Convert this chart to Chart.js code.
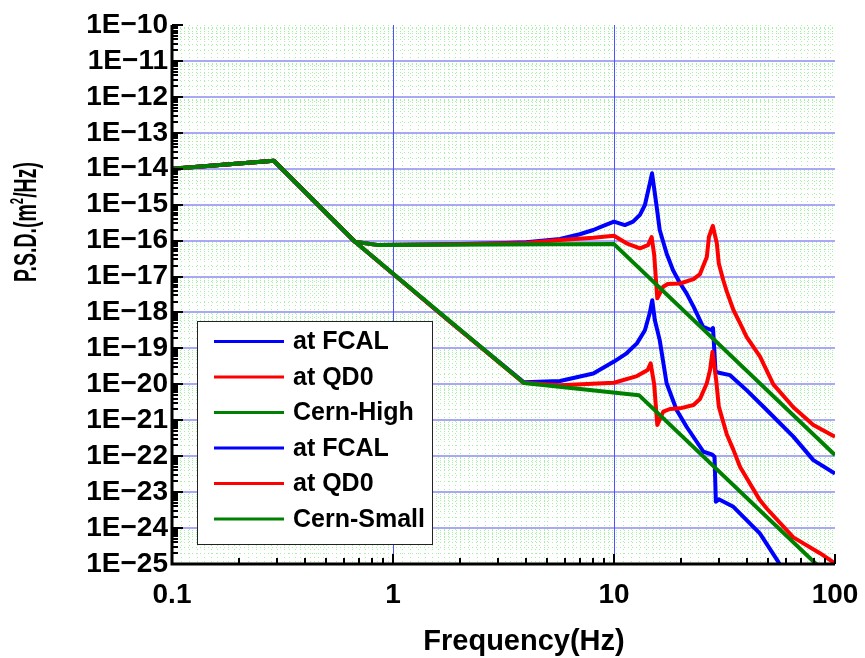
<!DOCTYPE html>
<html>
<head>
<meta charset="utf-8">
<script src="https://cdn.jsdelivr.net/npm/chart.js@4.4.1/dist/chart.umd.min.js"></script>
<style>
  html, body { margin: 0; padding: 0; background: #ffffff; }
  #wrap { width: 865px; height: 658px; }
</style>
</head>
<body>
<div id="wrap"><canvas id="psdChart" width="865" height="658"></canvas></div>
<script>
// ground motion PSD (m^2/Hz) vs frequency (Hz)
const seriesNames = ['at FCAL', 'at QD0', 'Cern-High', 'at FCAL', 'at QD0', 'Cern-Small'];
const seriesColors = ['#0000ff', '#ff0000', '#008000', '#0000ff', '#ff0000', '#008000'];

const fcalHighFreq = [0.1, 0.289, 0.673, 0.844, 2, 3, 4, 5.7, 7, 8.06, 9, 10, 11.2, 12.2, 13.1, 13.8, 14.3, 14.6, 14.86, 15.2, 15.6, 16.1, 17.3, 18.5, 19.9, 21.3, 22.9, 25.3, 27.7, 28.05, 28.8, 29.8, 33.5, 39.8, 49.1, 64.8, 79.8, 100];
const fcalHighPsd = [1e-14, 1.67e-14, 9.3e-17, 7.6e-17, 8.0e-17, 8.4e-17, 9.0e-17, 1.11e-16, 1.5e-16, 1.97e-16, 2.6e-16, 3.36e-16, 2.7e-16, 3.36e-16, 5.2e-16, 9.8e-16, 2.56e-15, 4.5e-15, 7.45e-15, 2.8e-15, 8.8e-16, 1.97e-16, 4.4e-17, 1.5e-17, 6.5e-18, 3.4e-18, 1.45e-18, 4.0e-19, 3.2e-19, 3.7e-19, 2.3e-20, 2.1e-20, 1.8e-20, 6.9e-21, 1.93e-21, 3.5e-22, 7.8e-23, 3.3e-23];

const qd0HighFreq = [0.1, 0.289, 0.673, 0.844, 2, 4, 5.7, 8.06, 10, 11.4, 13.1, 14.25, 14.8, 15.2, 15.7, 16.7, 17.5, 19.9, 22.9, 24.5, 26.3, 26.9, 28.0, 29.2, 29.8, 31.2, 32.4, 34.7, 37.2, 39.8, 45.8, 52.6, 64.8, 79.8, 100];
const qd0HighPsd = [1e-14, 1.67e-14, 9.3e-17, 7.6e-17, 7.9e-17, 8.6e-17, 1.04e-16, 1.2e-16, 1.37e-16, 8.4e-17, 6.1e-17, 7.5e-17, 1.26e-16, 4.0e-17, 2.47e-18, 5.2e-18, 6.2e-18, 6.4e-18, 8.5e-18, 1.17e-17, 3.5e-17, 1.28e-16, 2.55e-16, 8.4e-17, 2.3e-17, 8.0e-18, 3.8e-18, 1.17e-18, 5.0e-19, 2.1e-19, 5.9e-20, 1.0e-20, 2.3e-21, 7.4e-22, 3.5e-22];

const cernHighFreq = [0.1, 0.289, 0.673, 0.844, 10, 100];
const cernHighPsd = [1e-14, 1.67e-14, 9.3e-17, 7.6e-17, 8.0e-17, 1.08e-22];

const fcalSmallFreq = [0.1, 0.289, 0.673, 1.75, 3.9, 5.7, 8.06, 10, 11.4, 12.7, 13.8, 14.5, 14.9, 15.3, 16.1, 17.3, 19.2, 21.3, 25.4, 27.7, 28.5, 28.9, 29.8, 34.7, 45.7, 55.3, 62];
const fcalSmallPsd = [1e-14, 1.67e-14, 9.3e-17, 6.6e-19, 1.15e-20, 1.24e-20, 2.0e-20, 4.3e-20, 7.3e-20, 1.38e-19, 3.2e-19, 9.5e-19, 2.2e-18, 6.2e-19, 1.7e-19, 1.07e-20, 1.93e-21, 6.6e-22, 1.33e-22, 1.13e-22, 9.7e-23, 5.4e-24, 6.3e-24, 3.9e-24, 7.1e-25, 1.16e-25, 3e-26];

const qd0SmallFreq = [0.1, 0.289, 0.673, 1.75, 3.9, 5.7, 10, 12.7, 14.2, 14.65, 15.2, 15.7, 16.7, 17.9, 19.9, 22.9, 24.5, 26.3, 27.2, 27.9, 29.0, 29.8, 32.4, 34.7, 37.2, 45.7, 49.1, 64.8, 85.5, 100];
const qd0SmallPsd = [1e-14, 1.67e-14, 9.3e-17, 6.6e-19, 1.1e-20, 9.5e-21, 1.11e-20, 1.7e-20, 2.5e-20, 3.85e-20, 1.0e-20, 7.4e-22, 1.73e-21, 2.06e-21, 2.15e-21, 2.65e-21, 3.9e-21, 1.07e-20, 2.5e-20, 8.1e-20, 1.3e-20, 2.4e-21, 4.0e-22, 1.5e-22, 5.0e-23, 6.0e-24, 3.5e-24, 5.5e-25, 2.0e-25, 1.04e-25];

const cernSmallFreq = [0.1, 0.289, 0.673, 3.915, 12.97, 81.2, 100];
const cernSmallPsd = [1e-14, 1.67e-14, 9.3e-17, 1.09e-20, 5.0e-21, 1.07e-25, 3.2e-26];

const xTickValues = [0.1, 1, 10, 100];
const xTickLabels = ['0.1', '1', '10', '100'];
const yTickValues = [1e-10, 1e-11, 1e-12, 1e-13, 1e-14, 1e-15, 1e-16, 1e-17, 1e-18, 1e-19, 1e-20, 1e-21, 1e-22, 1e-23, 1e-24, 1e-25];
const yTickLabels = ['1E\u221210', '1E\u221211', '1E\u221212', '1E\u221213', '1E\u221214', '1E\u221215', '1E\u221216', '1E\u221217', '1E\u221218', '1E\u221219', '1E\u221220', '1E\u221221', '1E\u221222', '1E\u221223', '1E\u221224', '1E\u221225'];
const xTitle = 'Frequency(Hz)';
const yTitle = ['P.S.D.(m', '2', '/Hz)'];

const allFreq = [fcalHighFreq, qd0HighFreq, cernHighFreq, fcalSmallFreq, qd0SmallFreq, cernSmallFreq];
const allPsd = [fcalHighPsd, qd0HighPsd, cernHighPsd, fcalSmallPsd, qd0SmallPsd, cernSmallPsd];

const FONT = '"Liberation Sans", Arial, Helvetica, sans-serif';

function toPoints(freq, psd) {
    return freq.map(function(f, i) { return { x: f, y: psd[i] }; });
}

const datasets = seriesNames.map(function(name, i) {
    return {
        label: name,
        data: toPoints(allFreq[i], allPsd[i]),
        borderColor: seriesColors[i],
        backgroundColor: seriesColors[i],
        borderWidth: 4,
        borderJoinStyle: 'round',
        pointRadius: 0,
        fill: false,
        tension: 0,
        // later series sit on top, like the original plot
        order: seriesNames.length - i
    };
});

function decadeSteps() {
    const steps = [];
    for (let m = 1.1; m < 1.95; m += 0.1) steps.push(m);
    for (let m = 2; m < 4.95; m += 0.2) steps.push(m);
    for (let m = 5; m < 9.95; m += 0.5) steps.push(m);
    return steps;
}

const gridPlugin = {
    id: 'psdGrid',
    beforeDatasetsDraw(chart) {
        const ctx = chart.ctx;
        const a = chart.chartArea;
        const xs = chart.scales.x;
        const ys = chart.scales.y;
        ctx.save();

        // fine green dotted grid
        ctx.strokeStyle = '#a8f0a8';
        ctx.lineWidth = 1;
        ctx.setLineDash([1, 3]);
        const steps = decadeSteps();
        for (let k = -1; k <= 1; k++) {
            steps.forEach(function(m) {
                const px = Math.round(xs.getPixelForValue(m * Math.pow(10, k))) + 0.5;
                ctx.beginPath();
                ctx.moveTo(px, a.top);
                ctx.lineTo(px, a.bottom);
                ctx.stroke();
            });
        }
        for (let k = -25; k <= -11; k++) {
            for (let n = 2; n <= 9; n++) {
                const py = Math.round(ys.getPixelForValue(n * Math.pow(10, k))) + 0.5;
                ctx.beginPath();
                ctx.moveTo(a.left, py);
                ctx.lineTo(a.right, py);
                ctx.stroke();
            }
        }
        ctx.setLineDash([]);

        // decade lines
        ctx.strokeStyle = '#a8a8f4';
        ctx.lineWidth = 2;
        for (let k = -24; k <= -11; k++) {
            const py = Math.round(ys.getPixelForValue(Math.pow(10, k)));
            ctx.beginPath();
            ctx.moveTo(a.left, py);
            ctx.lineTo(a.right, py);
            ctx.stroke();
        }
        ctx.strokeStyle = '#5050ff';
        ctx.lineWidth = 1;
        [1, 10].forEach(function(v) {
            const px = Math.round(xs.getPixelForValue(v)) + 0.5;
            ctx.beginPath();
            ctx.moveTo(px, a.top);
            ctx.lineTo(px, a.bottom);
            ctx.stroke();
        });
        ctx.restore();
    },
    afterDraw(chart) {
        const ctx = chart.ctx;
        const a = chart.chartArea;
        const xs = chart.scales.x;
        const ys = chart.scales.y;
        ctx.save();

        // axes with inward ticks
        ctx.strokeStyle = '#000000';
        ctx.lineWidth = 3;
        ctx.beginPath();
        ctx.moveTo(a.left, a.top);
        ctx.lineTo(a.left, a.bottom);
        ctx.lineTo(a.right, a.bottom);
        ctx.stroke();
        ctx.lineWidth = 2;
        for (let k = -25; k <= -10; k++) {
            for (let n = 1; n <= 9; n++) {
                const v = n * Math.pow(10, k);
                if (v > 1.0001e-10) break;
                const py = Math.round(ys.getPixelForValue(v));
                const len = n === 1 ? 11 : 6;
                ctx.beginPath();
                ctx.moveTo(a.left, py);
                ctx.lineTo(a.left + len, py);
                ctx.stroke();
            }
        }
        for (let k = -1; k <= 2; k++) {
            for (let n = 1; n <= 9; n++) {
                const v = n * Math.pow(10, k);
                if (v > 100.001) break;
                const px = Math.round(xs.getPixelForValue(v));
                const len = n === 1 ? 10 : 6;
                ctx.beginPath();
                ctx.moveTo(px, a.bottom);
                ctx.lineTo(px, a.bottom - len);
                ctx.stroke();
            }
        }

        // legend box
        const bx = 197.5, by = 321.5, bw = 235, bh = 223;
        ctx.fillStyle = '#ffffff';
        ctx.fillRect(bx, by, bw, bh);
        ctx.strokeStyle = '#222222';
        ctx.lineWidth = 1;
        ctx.strokeRect(bx, by, bw, bh);
        ctx.font = 'bold 25px ' + FONT;
        ctx.textAlign = 'left';
        ctx.textBaseline = 'middle';
        seriesNames.forEach(function(name, i) {
            const ry = 341.5 + i * 35.5;
            ctx.strokeStyle = seriesColors[i];
            ctx.lineWidth = 3;
            ctx.beginPath();
            ctx.moveTo(214, ry);
            ctx.lineTo(284, ry);
            ctx.stroke();
            ctx.fillStyle = '#000000';
            ctx.fillText(name, 293, ry + 1);
        });

        // axis titles
        ctx.fillStyle = '#000000';
        ctx.font = 'bold 29px ' + FONT;
        ctx.textAlign = 'center';
        ctx.textBaseline = 'alphabetic';
        ctx.fillText(xTitle, 524, 650);

        // y title is narrow in the original, squeeze it along its length
        ctx.translate(26, 222);
        ctx.rotate(-Math.PI / 2);
        ctx.scale(0.63, 1);
        ctx.textAlign = 'left';
        ctx.font = 'bold 31px ' + FONT;
        const w1 = ctx.measureText(yTitle[0]).width;
        const w3 = ctx.measureText(yTitle[2]).width;
        ctx.font = 'bold 18px ' + FONT;
        const w2 = ctx.measureText(yTitle[1]).width;
        let tx = -(w1 + w2 + w3) / 2;
        ctx.font = 'bold 31px ' + FONT;
        ctx.fillText(yTitle[0], tx, 10);
        tx += w1;
        ctx.font = 'bold 18px ' + FONT;
        ctx.fillText(yTitle[1], tx, -3);
        tx += w2;
        ctx.font = 'bold 31px ' + FONT;
        ctx.fillText(yTitle[2], tx, 10);
        ctx.restore();
    }
};

const ctx = document.getElementById('psdChart').getContext('2d');
const psdChart = new Chart(ctx, {
    type: 'line',
    data: { datasets: datasets },
    options: {
        responsive: false,
        animation: false,
        devicePixelRatio: 1,
        layout: { padding: { top: 25, right: 30, left: 0, bottom: 0 } },
        plugins: {
            legend: { display: false },
            tooltip: { enabled: false }
        },
        scales: {
            x: {
                type: 'logarithmic',
                min: 0.1,
                max: 100,
                grid: { display: false, drawTicks: false },
                border: { display: false },
                afterBuildTicks: function(scale) {
                    scale.ticks = xTickValues.map(function(v) { return { value: v }; });
                },
                afterFit: function(scale) {
                    scale.height = 94;
                    scale.paddingLeft = 0;
                    scale.paddingRight = 0;
                },
                ticks: {
                    autoSkip: false,
                    maxRotation: 0,
                    padding: 14,
                    color: '#000000',
                    font: { family: FONT, size: 28, weight: 'bold' },
                    callback: function(value, index) { return xTickLabels[index]; }
                }
            },
            y: {
                type: 'logarithmic',
                min: 1e-25,
                max: 1e-10,
                grid: { display: false, drawTicks: false },
                border: { display: false },
                afterBuildTicks: function(scale) {
                    scale.ticks = yTickValues.map(function(v) { return { value: v }; });
                },
                afterFit: function(scale) {
                    scale.width = 172;
                    scale.paddingTop = 0;
                    scale.paddingBottom = 0;
                },
                ticks: {
                    autoSkip: false,
                    padding: 4,
                    color: '#000000',
                    font: { family: FONT, size: 28, weight: 'bold' },
                    callback: function(value, index) { return yTickLabels[index]; }
                }
            }
        }
    },
    plugins: [gridPlugin]
});
</script>
</body>
</html>
